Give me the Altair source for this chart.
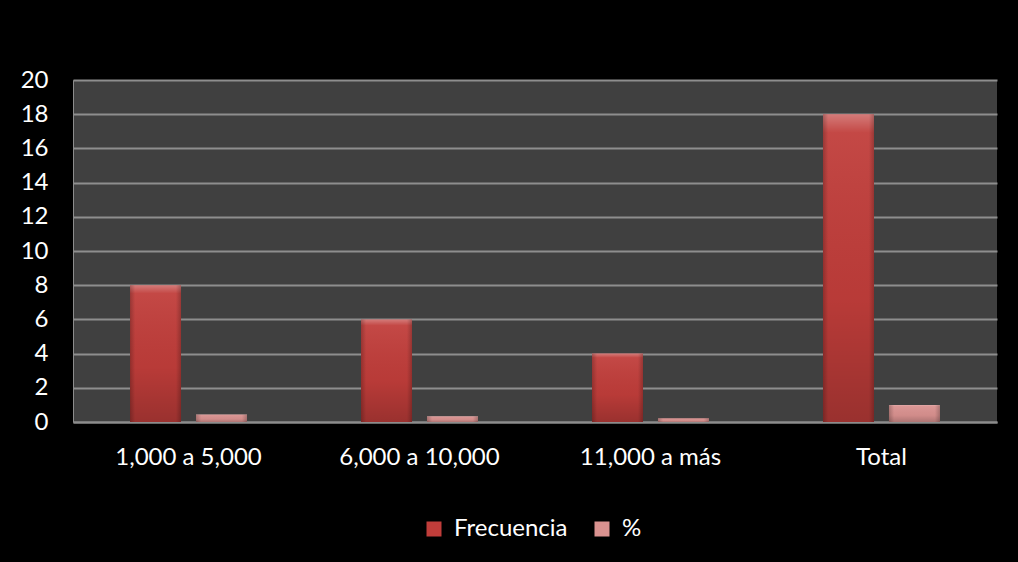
import altair as alt
import pandas as pd

# Source values
categorias = ["1,000 a 5,000", "6,000 a 10,000", "11,000 a más", "Total"]
frecuencia = [8, 6, 4, 18]
porcentaje = [0.44, 0.33, 0.22, 1.0]
series = ["Frecuencia", "%"]
colores = ["#c03d3a", "#da9290"]

rows = []
for c, f, p in zip(categorias, frecuencia, porcentaje):
    rows.append({"categoria": c, "serie": "Frecuencia", "valor": f})
    rows.append({"categoria": c, "serie": "%", "valor": p})
df = pd.DataFrame(rows)

FONT = "Lato"
FSIZE = 24

x_enc = alt.X(
    "categoria:N",
    sort=categorias,
    scale=alt.Scale(paddingInner=0.4935, paddingOuter=0.2468),
    axis=alt.Axis(
        title=None, labelAngle=0, labelFont=FONT, labelFontSize=FSIZE,
        labelColor="white", labelPadding=23, ticks=False,
        domainColor="#8c8c8c", domainWidth=2,
    ),
)
xoff_enc = alt.XOffset(
    "serie:N", sort=series, scale=alt.Scale(paddingInner=0.227, paddingOuter=0)
)
y_enc = alt.Y(
    "valor:Q",
    scale=alt.Scale(domain=[0, 20], nice=False),
    axis=alt.Axis(
        title=None, values=list(range(0, 21, 2)), labelFont=FONT,
        labelFontSize=FSIZE, labelColor="white", labelPadding=25, ticks=False,
        domainColor="#8c8c8c", domainWidth=1, gridColor="#8e8e8e",
        gridWidth=1.8,
    ),
)

base = alt.Chart(df)

bars = base.mark_bar().encode(
    x=x_enc,
    xOffset=xoff_enc,
    y=y_enc,
    color=alt.Color(
        "serie:N",
        sort=series,
        scale=alt.Scale(domain=series, range=colores),
        legend=alt.Legend(
            title=None, orient="none", direction="horizontal",
            legendX=349, legendY=437, symbolType="square", symbolSize=225,
            symbolStrokeWidth=0, labelColor="white", labelFont=FONT,
            labelFontSize=FSIZE, labelOffset=8, columnPadding=22,
        ),
    ),
)

# Bevel-like shading: light top edge fading to a darker base
shade_v = base.mark_bar(
    color=alt.Gradient(
        gradient="linear", x1=0, x2=0, y1=0, y2=1,
        stops=[
            alt.GradientStop(offset=0, color="rgba(255,255,255,0.32)"),
            alt.GradientStop(offset=0.06, color="rgba(255,255,255,0.06)"),
            alt.GradientStop(offset=0.6, color="rgba(0,0,0,0.04)"),
            alt.GradientStop(offset=1, color="rgba(0,0,0,0.20)"),
        ],
    )
).encode(x=x_enc, xOffset=xoff_enc, y=y_enc)

# Darker side edges
shade_h = base.mark_bar(
    color=alt.Gradient(
        gradient="linear", x1=0, x2=1, y1=0, y2=0,
        stops=[
            alt.GradientStop(offset=0, color="rgba(0,0,0,0.22)"),
            alt.GradientStop(offset=0.1, color="rgba(0,0,0,0.0)"),
            alt.GradientStop(offset=0.9, color="rgba(0,0,0,0.0)"),
            alt.GradientStop(offset=1, color="rgba(0,0,0,0.22)"),
        ],
    )
).encode(x=x_enc, xOffset=xoff_enc, y=y_enc)

chart = (
    alt.layer(bars, shade_v, shade_h)
    .properties(
        width=924,
        height=342,
        autosize=alt.AutoSizeParams(type="none"),
        padding={"left": 73, "top": 80, "right": 21, "bottom": 140},
        background="black",
    )
    .configure_view(fill="#404040", stroke=None)
)

chart.save("out.html", embed_options={"renderer": "svg", "actions": False})
